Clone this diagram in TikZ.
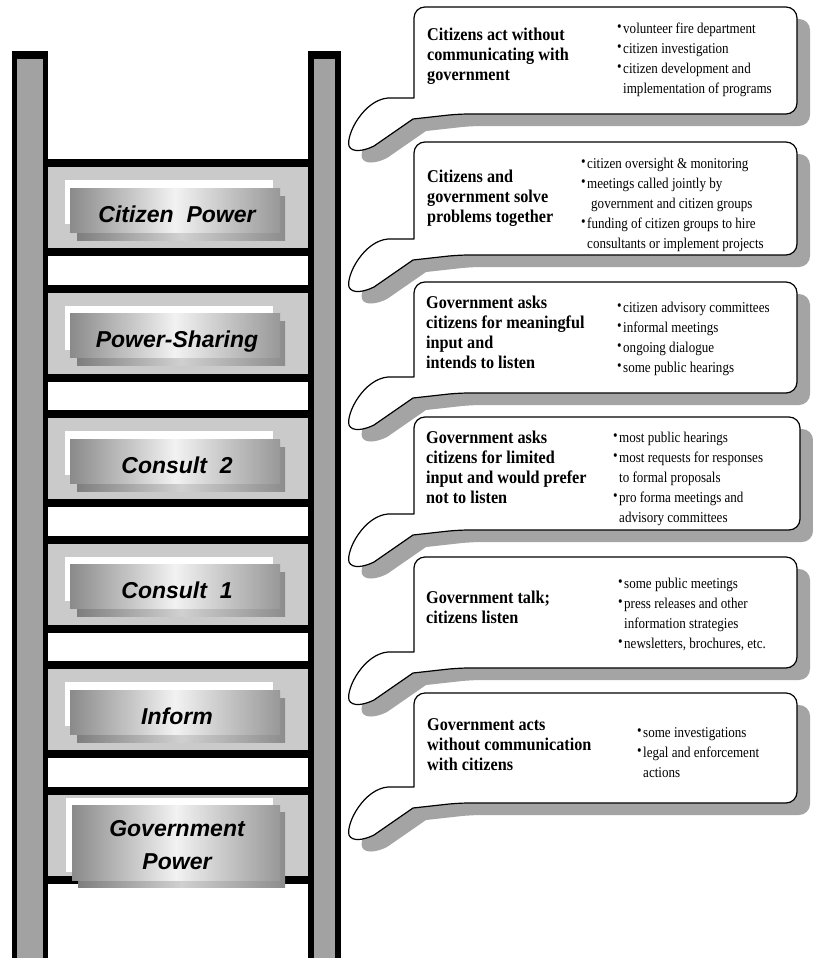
\documentclass[tikz,border=0pt]{standalone}
\usepackage{fontspec}
\setmainfont{Liberation Serif}
\newfontfamily\titlefont[FakeStretch=0.9]{Liberation Serif}
\newfontfamily\bulletfont[FakeStretch=0.87]{Liberation Serif}
\newfontfamily\labelfont{Liberation Sans}
\definecolor{railgray}{HTML}{A2A2A2}
\definecolor{panelgray}{HTML}{CACACA}
\definecolor{shadowgray}{HTML}{A4A4A4}
\definecolor{gradL}{HTML}{8A8A8A}
\definecolor{gradM}{HTML}{F2F2F2}
\definecolor{gradR}{HTML}{989898}
\definecolor{sgradL}{HTML}{7E7E7E}
\definecolor{sgradM}{HTML}{D0D0D0}
\definecolor{sgradR}{HTML}{8C8C8C}
\newcommand\fl{\rule{0pt}{14pt}}
\newcommand\fb{\rule{0pt}{13pt}}
\newcommand\bul{\llap{\raisebox{1.6pt}{\fontsize{15}{15}\selectfont\textbullet}\hspace{1.5pt}}}
\newcommand\callout[4]{%
  \fill[shadowgray, shift={(13,12)}] (#1+44,#4) -- (#1-1,#4+5) -- (#1-40,#4+32)
     .. controls (#1-50,#4+37) and (#1-62,#4+39) .. (#1-65,#4+32)
     .. controls (#1-68,#4+20) and (#1-50,#4-14) .. (#1-26,#4-16) -- (#1,#4-16)
     [rounded corners=11pt] -- (#1,#2) -- (#3,#2) -- (#3,#4) -- cycle;
  \draw[calloutline] (#1+44,#4) -- (#1-1,#4+5) -- (#1-40,#4+32)
     .. controls (#1-50,#4+37) and (#1-62,#4+39) .. (#1-65,#4+32)
     .. controls (#1-68,#4+20) and (#1-50,#4-14) .. (#1-26,#4-16) -- (#1,#4-16)
     [rounded corners=11pt] -- (#1,#2) -- (#3,#2) -- (#3,#4) -- cycle;
}
\begin{document}
\begin{tikzpicture}[x=1pt,y=-1pt,
  calloutline/.style={draw=black, line width=1.2pt, fill=white, line join=round},
  titletext/.style={anchor=north west, inner sep=0pt, align=left,
     font=\titlefont\bfseries\fontsize{18}{20}\selectfont},
  bullettext/.style={anchor=north west, inner sep=0pt, align=left,
     font=\bulletfont\fontsize{15}{20}\selectfont},
  laddertext/.style={inner sep=0pt, align=center,
     font=\labelfont\bfseries\itshape\fontsize{23}{33}\selectfont},
  labelgrad/.style={left color=gradL, right color=gradR, middle color=gradM},
  shadowgrad/.style={left color=sgradL, right color=sgradR, middle color=sgradM},
]
\useasboundingbox (0,0) rectangle (812,958);
\fill[white] (0,0) rectangle (812,958);

% ---------- ladder rails ----------
\fill[black] (12,51) rectangle (48,958);
\fill[railgray] (17,59) rectangle (43,958);
\fill[black] (308,51) rectangle (341,958);
\fill[railgray] (314,59) rectangle (335,958);

% ---------- rungs and panels ----------
\foreach \k in {0,...,5}{
  \pgfmathsetmacro\yo{159+125.6*\k}
  \fill[black] (48,\yo) rectangle (308,\yo+8);
  \fill[panelgray] (48,\yo+8) rectangle (308,\yo+89);
  \fill[black] (48,\yo+89) rectangle (308,\yo+97);
}
\foreach \k in {0,...,4}{
  \pgfmathsetmacro\pt{167+125.6*\k}
  \fill[white] (65,\pt+13) rectangle (273,\pt+57);
  \shade[shadowgrad] (77,\pt+29) rectangle (285,\pt+73);
  \shade[labelgrad] (70,\pt+21) rectangle (280,\pt+65);
}
% Government power label (taller)
\fill[white] (66,798) rectangle (273,872);
\shade[shadowgrad] (78,812) rectangle (285,887);
\shade[labelgrad] (72,805) rectangle (280,880);

\node[laddertext, text height=17pt, text depth=5pt] (lab1) at (177,216) {Citizen\ \ Power};
\node[laddertext, text height=17pt, text depth=5pt] (lab2) at (177,341.6) {Power-Sharing};
\node[laddertext, text height=17pt, text depth=5pt] (lab3) at (177,467.2) {Consult\ \ 2};
\node[laddertext, text height=17pt, text depth=5pt] (lab4) at (177,592.8) {Consult\ \ 1};
\node[laddertext, text height=17pt, text depth=5pt] (lab5) at (177,718.4) {Inform};
\node[laddertext] (lab6) at (177,845) {Government\\Power};

% ---------- callouts ----------
\callout{414}{7}{797}{114}
\callout{414}{142}{797}{255}
\callout{414}{282}{797}{393}
\callout{414}{417}{800}{530}
\callout{414}{557}{797}{668}
\callout{414}{693}{797}{803}

% ---------- callout texts ----------
\node[titletext] (t1) at (427,26) {\fl Citizens act without\\communicating with\\government};
\node[bullettext] (b1) at (623,20) {\fb\bul volunteer fire department\\\bul citizen investigation\\\bul citizen development and\\implementation of programs};

\node[titletext] (t2) at (427,168) {\fl Citizens and\\government solve\\problems together};
\node[bullettext] (b2) at (587,155) {\fb\bul citizen oversight \& monitoring\\\bul meetings called jointly by\\\hspace{4pt}government and citizen groups\\\bul funding of citizen groups to hire\\consultants or implement projects};

\node[titletext] (t3) at (426,294) {\fl Government asks\\citizens for meaningful\\input and\\intends to listen};
\node[bullettext] (b3) at (623,299) {\fb\bul citizen advisory committees\\\bul informal meetings\\\bul ongoing dialogue\\\bul some public hearings};

\node[titletext] (t4) at (426,429) {\fl Government asks\\citizens for limited\\input and would prefer\\not to listen};
\node[bullettext] (b4) at (619,429) {\fb\bul most public hearings\\\bul most requests for responses\\to formal proposals\\\bul pro forma meetings and\\advisory committees};

\node[titletext] (t5) at (426,589) {\fl Government talk;\\citizens listen};
\node[bullettext] (b5) at (624,575) {\fb\bul some public meetings\\\bul press releases and other\\information strategies\\\bul newsletters, brochures, etc.};

\node[titletext] (t6) at (427,716) {\fl Government acts\\without communication\\with citizens};
\node[bullettext] (b6) at (643,724) {\fb\bul some investigations\\\bul legal and enforcement\\actions};
\end{tikzpicture}
\end{document}
